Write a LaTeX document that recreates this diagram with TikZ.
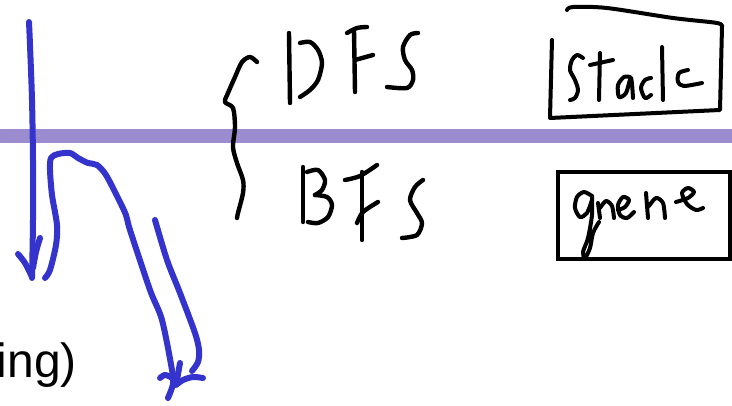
\documentclass[tikz,border=0pt]{standalone}
\usepackage{fontspec}
\setmainfont{Liberation Sans}
\definecolor{penblue}{RGB}{52,52,204}
\definecolor{bandpurple}{RGB}{155,139,207}
\begin{document}
\begin{tikzpicture}[x=1pt,y=-1pt,
  bluepen/.style={draw=penblue,line width=6pt,line cap=round,line join=round},
  inkpen/.style={draw=black,line width=4.4pt,line cap=round,line join=round},
  thinink/.style={inkpen,line width=4pt}]
\clip (0,0) rectangle (732,406);
\fill[white] (0,0) rectangle (732,406);
% purple separator band
\fill[bandpurple] (0,129) rectangle (732,143);
% text at bottom left
\node[anchor=base east,font=\fontsize{48}{52}\selectfont,inner sep=0pt] (ing) at (77,378) {ing)};
% blue arrow 1
\draw[bluepen] plot[smooth] coordinates {(29,22)(30,45)(32,100)(33,160)(33,220)(32,278)};
\draw[bluepen] plot[smooth] coordinates {(18,254)(25,263)(32,277)};
\draw[bluepen] plot[smooth] coordinates {(40,238)(36,252)(33,268)};
% blue hook arrow
\draw[bluepen] plot[smooth] coordinates {(45,278)(50,270)(56,245)(57,225)(52,195)(50,170)(51,158)(58,154)(70,153)(78,158)(88,163)(97,165)(106,175)(118,198)(126,215)(130,230)(150,290)(162,320)(172,370)(173,384)(168,398)};
\draw[bluepen] plot[smooth] coordinates {(160,378)(165,375)(172,378)(176,384)};
\draw[bluepen] plot[smooth] coordinates {(203,378)(193,377)(183,380)(176,385)};
\draw[bluepen] plot[smooth] coordinates {(180,363)(177,380)};
\draw[bluepen] plot[smooth] coordinates {(155,220)(167,260)(180,293)(195,333)(199,350)(198,362)(192,371)};
% brace
\draw[inkpen] plot[smooth] coordinates {(257,62)(250,57)(242,62)(235,77)(228,93)(225,102)(233,108)(235,127)(233,147)(237,163)(243,180)(243,193)(238,213)(237,218)};
% DFS
\draw[inkpen] (289,33) -- (290,103);
\draw[inkpen] plot[smooth] coordinates {(300,43)(310,42)(318,50)(322,63)(318,80)(310,90)(300,97)};
\draw[inkpen] (354,30) -- (355,92);
\draw[inkpen] plot[smooth] coordinates {(347,33)(357,28)(367,27)};
\draw[inkpen] (355,60) -- (373,55);
\draw[inkpen] plot[smooth] coordinates {(418,33)(410,35)(403,47)(405,60)(412,70)(413,80)(407,88)(387,87)};
% BFS
\draw[inkpen] (303,167) -- (303,222);
\draw[inkpen] plot[smooth] coordinates {(307,172)(318,170)(325,180)(322,190)(315,195)};
\draw[inkpen] plot[smooth] coordinates {(315,195)(327,197)(332,205)(328,217)(318,223)(308,222)};
\draw[inkpen] plot[smooth] coordinates {(345,180)(360,176)(377,165)};
\draw[inkpen] (362,172) -- (362,240);
\draw[inkpen] plot[smooth] coordinates {(357,223)(363,212)(378,202)};
\draw[inkpen] plot[smooth] coordinates {(423,180)(415,187)(410,200)(417,213)(422,223)(417,235)(402,238)};
% stack box
\draw[thinink] (552,40) -- (550,118) -- (720,110) -- (722,27);
\draw[thinink] plot[smooth] coordinates {(722,27)(717,23)(673,18)(607,8)(573,7)(567,10)};
% Stack
\draw[thinink] plot[smooth] coordinates {(583,58)(577,55)(572,60)(570,70)(575,80)(578,90)(575,98)(570,100)};
\draw[thinink] (600,53) -- (599,100);
\draw[thinink] (590,65) -- (613,60);
\draw[thinink] plot[smooth] coordinates {(630,77)(624,77)(618,85)(619,97)(626,93)(631,78)(633,98)};
\draw[thinink] plot[smooth] coordinates {(651,78)(645,80)(641,88)(645,98)(651,95)};
\draw[thinink] (662,47) -- (663,100);
\draw[thinink] plot[smooth] coordinates {(688,70)(679,73)(678,82)(684,86)(702,83)};
% queue box
\draw[thinink,line join=miter] (558,172) rectangle (730,259);
% queue
\draw[thinink] plot[smooth] coordinates {(592,196)(584,192)(577,197)(575,208)(580,217)(587,213)(592,200)};
\draw[thinink] plot[smooth] coordinates {(592,196)(592,215)(588,238)(583,252)(585,258)(590,248)(593,233)(599,222)};
\draw[thinink] (598,203) -- (600,218);
\draw[thinink] plot[smooth] coordinates {(600,208)(606,201)(612,206)(614,218)};
\draw[thinink] plot[smooth] coordinates {(618,210)(625,207)(629,200)(623,197)(618,205)(620,215)(627,218)(634,212)};
\draw[thinink] (646,193) -- (648,218);
\draw[thinink] plot[smooth] coordinates {(649,206)(656,198)(663,203)(665,218)};
\draw[thinink] plot[smooth] coordinates {(676,202)(688,198)(694,192)(688,188)(682,193)(687,204)(696,210)(703,208)};
\end{tikzpicture}
\end{document}
